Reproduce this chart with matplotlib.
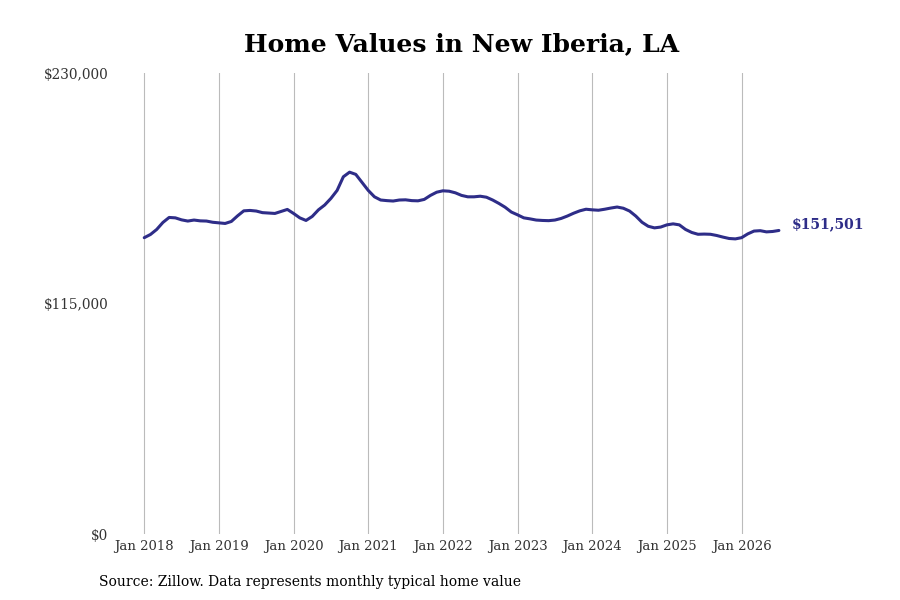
import matplotlib
matplotlib.use("Agg")
import matplotlib.pyplot as plt
import numpy as np

# Monthly typical home values, Jan 2018 .. Jul 2026 (in dollars)
values_k = [
    147.9, 149.5, 152.0, 155.5, 158.0, 157.8, 156.8, 156.2, 156.7, 156.3, 156.2, 155.6,
    155.3, 155.0, 156.0, 158.8, 161.3, 161.5, 161.2, 160.4, 160.2, 160.0, 161.0, 162.0,
    160.0, 157.8, 156.5, 158.5, 161.8, 164.2, 167.5, 171.5, 178.3, 180.6, 179.5, 175.5,
    171.5, 168.3, 166.7, 166.4, 166.2, 166.7, 166.8, 166.4, 166.3, 167.0, 169.0, 170.6,
    171.3, 171.1, 170.3, 169.0, 168.3, 168.3, 168.6, 168.1, 166.7, 165.0, 163.1, 160.7,
    159.3, 157.8, 157.3, 156.7, 156.5, 156.4, 156.7, 157.5, 158.7, 160.1, 161.3, 162.1,
    161.8, 161.6, 162.1, 162.7, 163.2, 162.6, 161.2, 158.7, 155.6, 153.6, 152.8, 153.2,
    154.3, 154.8, 154.3, 152.0, 150.5, 149.6, 149.7, 149.6, 149.0, 148.2, 147.5, 147.3,
    147.9, 149.8, 151.2, 151.4, 150.8, 151.0, 151.501,
]
values = [v * 1000 for v in values_k]
year_labels = ["Jan 2018", "Jan 2019", "Jan 2020", "Jan 2021", "Jan 2022",
               "Jan 2023", "Jan 2024", "Jan 2025", "Jan 2026"]
y_ticks = [0, 115000, 230000]
y_tick_labels = ["$0", "$115,000", "$230,000"]
last_label = "$151,501"

plt.rcParams['font.family'] = ['DejaVu Serif']
line_color = '#2e2d88'

fig = plt.figure(figsize=(9, 6), dpi=100)
ax = fig.add_axes([0.125, 0.11, 0.775, 0.768])

months = np.arange(len(values))
ax.plot(months, values, color=line_color, linewidth=2.2, solid_capstyle='round')

ax.set_ylim(0, 230000)
ax.set_xlim(-5.1, 107)
ax.set_yticks(y_ticks)
ax.set_yticklabels(y_tick_labels)
ax.set_xticks(np.arange(len(year_labels)) * 12)
ax.set_xticklabels(year_labels)
ax.tick_params(axis='both', length=0, labelsize=9.5, colors='#333333')
ax.tick_params(axis='y', pad=3, labelsize=9.8)
ax.tick_params(axis='x', pad=4)
ax.grid(axis='x', color='#bbbbbb', linewidth=0.8)
ax.set_axisbelow(True)
for s in ax.spines.values():
    s.set_visible(False)

ax.annotate(last_label, xy=(months[-1], values[-1]), xytext=(9, 4.5),
            textcoords='offset points', color=line_color, fontsize=10,
            fontweight='bold', va='center', ha='left')

fig.text(0.513, 0.926, "Home Values in New Iberia, LA", ha='center', va='center',
         fontsize=18, fontweight='bold', color='#000000')
fig.text(0.11, 0.03, "Source: Zillow. Data represents monthly typical home value",
         ha='left', va='center', fontsize=10, color='#000000')

fig.savefig("out.png", dpi=100)
